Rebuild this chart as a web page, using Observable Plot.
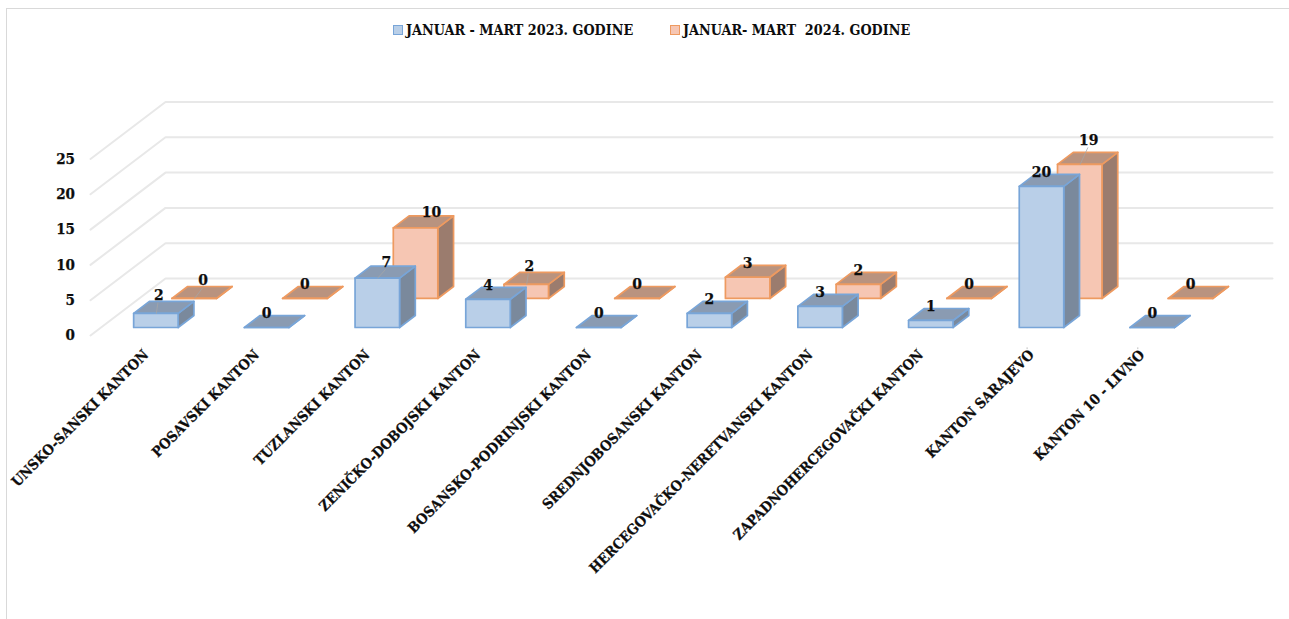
<!DOCTYPE html>
<html>
<head>
<meta charset="utf-8">
<script src="https://cdn.jsdelivr.net/npm/d3@7"></script>
<script src="https://cdn.jsdelivr.net/npm/@observablehq/plot@0.6"></script>
<style>
  html, body { margin: 0; padding: 0; background: #fff; }
  #page { position: relative; width: 1289px; height: 619px; overflow: hidden; font-family: "DejaVu Serif Condensed", "DejaVu Serif", serif; font-weight: 700; color: #0d0d0d; }
  #edge { position: absolute; left: 6px; top: 8px; right: 0; bottom: 0; border-left: 1px solid #d9d9d9; border-top: 1px solid #d9d9d9; }
  #legend { position: absolute; left: 0; top: 0; width: 1289px; height: 50px; font-size: 14.25px; white-space: pre; }
  #legend .item { position: absolute; top: 21px; display: flex; align-items: center; height: 18px; }
  #legend .sw { width: 8px; height: 8px; margin-right: 3px; border-width: 1.5px; border-style: solid; }
  #chart { position: absolute; left: 0; top: 50px; }
</style>
</head>
<body>
<div id="page">
  <div id="edge"></div>
  <div id="legend"></div>
  <div id="chart"></div>
</div>
<script>
const cantons = ["UNSKO-SANSKI KANTON","POSAVSKI KANTON","TUZLANSKI KANTON","ZENIČKO-DOBOJSKI KANTON","BOSANSKO-PODRINJSKI KANTON","SREDNJOBOSANSKI KANTON","HERCEGOVAČKO-NERETVANSKI KANTON","ZAPADNOHERCEGOVAČKI KANTON","KANTON SARAJEVO","KANTON 10 - LIVNO"];
const values2023 = [2,0,7,4,0,2,3,1,20,0];
const values2024 = [0,0,10,2,0,3,2,0,19,0];
const seriesNames = ["JANUAR - MART 2023. GODINE","JANUAR- MART  2024. GODINE"];
const axisTicks = [0,5,10,15,20,25];

// layout (oblique 3D projection, expressed in scale units)
const PXU = 1 / 110.7, PYU = 1 / 7.06;          // one pixel in x / y scale units
const DX = 75 * PXU, DY = 57 * PYU;             // full floor depth in scale units
const barStart = 0.295, barEnd = 0.697;
const rows = [
  {values: values2023, d0: 0.14, d1: 0.35, front: "#b9cfe8", top: "#8a9bb2", side: "#7a899c", stroke: "#78a5d8"},
  {values: values2024, d0: 0.65, d1: 0.86, front: "#f6c6b3", top: "#b9937f", side: "#9b7c6e", stroke: "#ee9a60"}
];
const P = (u, d, v) => ({x: u + d * DX, y: v + d * DY});

function faces(row) {
  const front = [], top = [], side = [];
  row.values.forEach((v, i) => {
    const a = i + barStart, b = i + barEnd, {d0, d1} = row;
    const add = (arr, pts) => pts.forEach(p => arr.push({...P(...p), id: i}));
    add(side, [[b,d0,0],[b,d1,0],[b,d1,v],[b,d0,v],[b,d0,0]]);
    add(top, [[a,d0,v],[b,d0,v],[b,d1,v],[a,d1,v],[a,d0,v]]);
    add(front, [[a,d0,0],[b,d0,0],[b,d0,v],[a,d0,v],[a,d0,0]]);
  });
  return {front, top, side};
}
const faceMarks = row => {
  const f = faces(row);
  const o = (fill) => ({x: "x", y: "y", z: "id", fill, stroke: row.stroke, strokeWidth: 1.7, strokeLinejoin: "round", curve: "linear"});
  return [Plot.line(f.side, o(row.side)), Plot.line(f.top, o(row.top)), Plot.line(f.front, o(row.front))];
};

// hand-placed data labels differ from the default spot (pixels: right, up)
const labelNudge = {"0-0":[3,4],"0-2":[9,2],"1-0":[9,3.5],"1-2":[16,1],"1-3":[3,4],"1-8":[9,10]};
const leaders = ["0-0","0-2","1-0","1-3","1-8"];
const labels = [], leaderPts = [];
rows.forEach((row, s) => row.values.forEach((v, i) => {
  const key = s + "-" + i;
  const c = P(i + 0.5, (row.d0 + row.d1) / 2, v);
  const n = labelNudge[key] || [0, 0];
  const lx = c.x + (n[0] - 8.3) * PXU, ly = c.y + (n[1] + 8.5) * PYU;
  labels.push({x: lx, y: ly, text: String(v)});
  if (leaders.includes(key)) {
    const f = P(i + 0.5, row.d0, v);
    leaderPts.push({...f, id: key}, {x: lx - 1 * PXU, y: ly - 8 * PYU, id: key});
  }
}));

const gridPts = axisTicks.flatMap(t => [
  {...P(0, 0, t), id: t}, {...P(0, 1, t), id: t}, {...P(10, 1, t), id: t}
]);

const textStyle = size => ({fontSize: size, fontWeight: 700, fontFamily: "DejaVu Serif Condensed", fill: "#0d0d0d", stroke: "#0d0d0d", strokeWidth: 0.25});

const chart = Plot.plot({
  width: 1289,
  height: 569,
  style: {background: "transparent", overflow: "visible"},
  x: {domain: [0, 10], range: [90, 1197], axis: null},
  y: {domain: [0, 25], range: [285, 285 - 176.5], axis: null},
  marks: [
    Plot.line(gridPts, {x: "x", y: "y", z: "id", stroke: "#e8e8e8", strokeWidth: 2, curve: "linear"}),
    Plot.text(axisTicks, {
      x: () => -15.5 * PXU, y: d => d, text: d => String(d), textAnchor: "end", ...textStyle(15)
    }),
    ...faceMarks(rows[1]),
    ...faceMarks(rows[0]),
    Plot.line(leaderPts, {x: "x", y: "y", z: "id", stroke: "#a6a6a6", strokeWidth: 0.75, curve: "linear"}),
    Plot.text(labels, {x: "x", y: "y", text: "text", ...textStyle(15.5)}),
    Plot.ruleX(cantons, {
      x: (d, i) => i + 51 * PXU, y1: -1.75, y2: -2.0, stroke: "#bfbfbf", strokeWidth: 1
    }),
    Plot.text(cantons, {
      x: (d, i) => i + 55.5 * PXU, y: () => -17 * PYU, text: d => d,
      textAnchor: "end", lineAnchor: "middle", rotate: -45, ...textStyle(14.25)
    })
  ]
});
document.getElementById("chart").append(chart);

const legend = document.getElementById("legend");
[[393, rows[0]], [670, rows[1]]].forEach(([left, row], i) => {
  const item = document.createElement("div");
  item.className = "item";
  item.style.left = left + "px";
  const sw = document.createElement("span");
  sw.className = "sw";
  sw.style.background = row.front;
  sw.style.borderColor = row.stroke;
  const t = document.createElement("span");
  t.textContent = seriesNames[i];
  item.append(sw, t);
  legend.append(item);
});
</script>
</body>
</html>
